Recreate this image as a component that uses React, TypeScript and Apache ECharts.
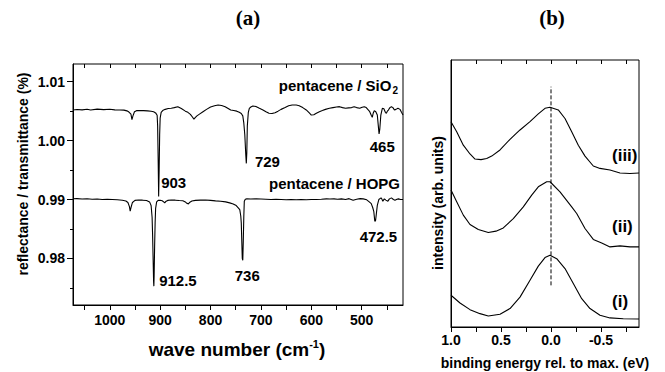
import React, { useEffect, useRef } from "react";
import * as echarts from "echarts";

const FONT = '"Liberation Sans", Arial, Helvetica, sans-serif';
const SERIF = '"Liberation Serif", "Times New Roman", serif';
const INK = "#000000";

// ---------- panel (a): IR spectra [wave number (cm-1), reflectance/transmittance] ----------
const siO2Spectrum: [number, number][] = [
  [1073, 1.0052], [1065, 1.00528], [1055, 1.00522], [1045, 1.00531], [1038, 1.00519],
  [1025, 1.00534], [1012, 1.00526], [1000, 1.00531], [990, 1.00522], [980, 1.00519],
  [972, 1.00517], [966, 1.00505], [962, 1.00485], [958, 1.0045], [956, 1.00355],
  [954, 1.0042], [951, 1.0049], [947, 1.00508], [940, 1.0051], [933, 1.00508],
  [925, 1.00505], [918, 1.00498], [913, 1.00491], [909, 1.0047], [906, 1.0043],
  [905, 1.0025], [904, 0.997], [903, 0.9905], [902, 0.995], [901, 1.001],
  [900, 1.0038], [898, 1.0048], [895, 1.0051], [890, 1.0053], [884, 1.00545],
  [878, 1.0055], [872, 1.0056], [865, 1.00575], [858, 1.00545], [850, 1.005],
  [845, 1.0048], [840, 1.00445], [836, 1.004], [833, 1.00365], [830, 1.00395],
  [827, 1.0042], [822, 1.0045], [815, 1.0049], [808, 1.0053], [800, 1.0057],
  [792, 1.0059], [785, 1.00604], [778, 1.00595], [771, 1.00576], [765, 1.00545],
  [760, 1.00519], [754, 1.0051], [748, 1.005], [743, 1.0048], [739, 1.0046],
  [736, 1.0042], [734, 1.003], [732, 1.001], [730, 0.9975], [729, 0.99613],
  [728, 0.998], [727, 1.0025], [725, 1.0048], [723, 1.00548], [720, 1.0057],
  [716, 1.00587], [710, 1.0058], [703, 1.00548], [696, 1.0052], [690, 1.0049],
  [684, 1.00463], [678, 1.0046], [672, 1.00474], [666, 1.005], [660, 1.0053],
  [652, 1.0056], [645, 1.0059], [638, 1.00604], [630, 1.00604], [624, 1.0059],
  [617, 1.0056], [610, 1.0052], [604, 1.0047], [600, 1.00434], [595, 1.0044],
  [590, 1.00465], [584, 1.00491], [578, 1.0051], [572, 1.0053], [564, 1.00548],
  [557, 1.0056], [550, 1.0057], [544, 1.00576], [538, 1.0056], [532, 1.00548],
  [526, 1.00556], [520, 1.0056], [515, 1.00576], [510, 1.0056], [504, 1.00548],
  [499, 1.00565], [495, 1.00576], [491, 1.0056], [487, 1.0052], [484, 1.00491],
  [481, 1.0043], [479, 1.00395], [477, 1.0047], [475, 1.00508], [472, 1.0049],
  [469, 1.00434], [467, 1.0025], [465.5, 1.00112], [464, 1.002], [462, 1.00434],
  [459, 1.00548], [456, 1.0054], [453, 1.0048], [451, 1.00463], [449, 1.005],
  [447, 1.00519], [444, 1.0056], [441, 1.00576], [438, 1.0056], [435, 1.00519],
  [432, 1.0053], [428, 1.00548], [424, 1.0053], [421, 1.0048], [418, 1.00434],
];

const hopgSpectrum: [number, number][] = [
  [1073, 0.99012], [1065, 0.99015], [1055, 0.99008], [1045, 0.99012], [1035, 0.99005],
  [1025, 0.99008], [1015, 0.99], [1005, 0.99005], [995, 0.99], [985, 0.98995],
  [975, 0.98989], [968, 0.98975], [964, 0.9895], [961, 0.9888], [959.5, 0.98802],
  [958, 0.9886], [955, 0.9895], [950, 0.98985], [943, 0.98992], [935, 0.98989],
  [927, 0.98983], [921, 0.9896], [918, 0.989], [916, 0.987], [915, 0.984],
  [914, 0.98], [913, 0.976], [912.5, 0.9753], [912, 0.977], [911, 0.982],
  [910, 0.986], [909, 0.9885], [907, 0.9896], [904, 0.98985], [900, 0.98989],
  [896, 0.9898], [893, 0.9896], [891, 0.98943], [889, 0.98965], [885, 0.98985],
  [878, 0.98992], [870, 0.98989], [862, 0.98983], [855, 0.9898], [850, 0.9896],
  [847, 0.98935], [844, 0.98926], [841, 0.98955], [837, 0.98975], [830, 0.98985],
  [820, 0.98989], [810, 0.98992], [800, 0.98985], [790, 0.98977], [780, 0.9897],
  [770, 0.9896], [762, 0.98943], [755, 0.98925], [749, 0.98898], [745, 0.9886],
  [742, 0.9883], [740, 0.9872], [739, 0.98604], [738, 0.983], [737, 0.98],
  [736, 0.97969], [735, 0.983], [734, 0.987], [733, 0.98972], [731, 0.99005],
  [728, 0.99011], [720, 0.99008], [710, 0.99011], [700, 0.99008], [690, 0.99005],
  [680, 0.99], [670, 0.99003], [660, 0.99], [650, 0.98995], [640, 0.99],
  [630, 0.98995], [620, 0.99], [610, 0.98995], [600, 0.99], [590, 0.99],
  [580, 0.99005], [570, 0.99011], [563, 0.99008], [555, 0.99011], [548, 0.99005],
  [540, 0.99011], [532, 0.99], [525, 0.99015], [517, 0.98989], [510, 0.99005],
  [503, 0.99015], [497, 0.99011], [490, 0.98995], [485, 0.9896], [481, 0.9893],
  [478, 0.9886], [476, 0.988], [474, 0.98632], [472.5, 0.9864], [471, 0.9875],
  [469, 0.989], [466, 0.99], [463, 0.9902], [461, 0.99028], [458, 0.98972],
  [455, 0.99011], [452, 0.9899], [448, 0.98972], [445, 0.99011], [441, 0.99028],
  [437, 0.99], [434, 0.98989], [430, 0.99005], [427, 0.99011], [423, 0.99],
  [418, 0.99],
];

const waveLabelValues = [1000, 900, 800, 700, 600, 500];
const waveTickValues = [1050, 1000, 950, 900, 850, 800, 750, 700, 650, 600, 550, 500, 450];
const reflLabelValues = [0.98, 0.99, 1.0, 1.01];
const reflMinorTickValues = [0.975, 0.985, 0.995, 1.005];

const annotationTexts = [
  "{t|pentacene / SiO}{s|2}",
  "{t|729}",
  "{t|465}",
  "{t|903}",
  "{t|pentacene / HOPG}",
  "{t|472.5}",
  "{t|912.5}",
  "{t|736}",
];
const annotationWaves = [428, 712, 484, 898, 424, 504, 902, 752];
const annotationValues = [1.00927, 0.99653, 0.99908, 0.99288, 0.99271, 0.98379, 0.97632, 0.97717];
const annotationSides = ["left", "right", "right", "right", "left", "right", "right", "right"];

// ---------- panel (b): photoemission [binding energy rel. to max (eV), intensity (arb.)] ----------
const curveIII: [number, number][] = [
  [1.0, 76.9], [0.943, 73.1], [0.877, 68.1], [0.81, 64.8], [0.76, 62.9], [0.7, 62.7],
  [0.643, 63.1], [0.593, 64.0], [0.51, 66.3], [0.41, 70.3], [0.35, 72.4], [0.31, 73.8],
  [0.21, 76.9], [0.127, 79.8], [0.06, 81.9], [0.01, 82.3], [-0.073, 81.3], [-0.14, 78.1],
  [-0.207, 73.1], [-0.273, 68.1], [-0.34, 64.0], [-0.423, 60.3], [-0.49, 59.4],
  [-0.59, 58.8], [-0.69, 57.7], [-0.79, 57.5], [-0.88, 57.7],
];
const curveII: [number, number][] = [
  [1.0, 51.3], [0.943, 46.9], [0.877, 41.9], [0.81, 38.4], [0.727, 36.5], [0.627, 35.4],
  [0.55, 35.9], [0.477, 37.1], [0.377, 40.6], [0.277, 45.0], [0.193, 49.4], [0.127, 52.5],
  [0.043, 54.4], [0.01, 54.4], [-0.09, 50.6], [-0.207, 45.0], [-0.257, 42.5], [-0.34, 36.9],
  [-0.423, 32.8], [-0.507, 31.5], [-0.59, 30.0], [-0.69, 30.4], [-0.79, 30.0], [-0.88, 30.0],
];
const curveI: [number, number][] = [
  [1.0, 11.9], [0.91, 9.0], [0.81, 6.5], [0.71, 5.0], [0.627, 4.1], [0.51, 4.8],
  [0.41, 6.9], [0.31, 11.2], [0.21, 17.5], [0.127, 22.8], [0.06, 26.0], [0.01, 26.9],
  [-0.057, 25.6], [-0.14, 21.9], [-0.223, 16.3], [-0.307, 10.6], [-0.39, 6.9],
  [-0.49, 4.4], [-0.59, 3.4], [-0.723, 3.1], [-0.88, 3.0],
];
const markerLine: [number, number][] = [[0, 15.6], [0, 90.0]];

const energyLabelValues = [1.0, 0.5, 0.0, -0.5];
const energyTickValues = [1.0, 0.75, 0.5, 0.25, 0.0, -0.25, -0.5, -0.75];

const curveNames = ["(iii)", "(ii)", "(i)"];
const curveNameEnergies = [-0.61, -0.61, -0.61];
const curveNameIntensities = [64.4, 37.8, 9.5];

export default function App() {
  const ref = useRef<HTMLDivElement>(null);

  useEffect(() => {
    document.body.style.margin = "0";
    const chart = echarts.init(ref.current as HTMLDivElement, null, { renderer: "svg" });

    const tickLabel = { color: INK, fontSize: 14, fontWeight: "bold" as const, fontFamily: FONT };
    const lineSeries = (data: [number, number][], xi: number, yi: number, extra: any = {}) => ({
      type: "line",
      xAxisIndex: xi,
      yAxisIndex: yi,
      data,
      showSymbol: false,
      symbol: "none",
      silent: true,
      lineStyle: { color: INK, width: 1.1, ...extra },
    });

    chart.setOption({
      animation: false,
      backgroundColor: "#ffffff",
      textStyle: { fontFamily: FONT },
      grid: [
        { left: 73, top: 64, width: 330, height: 241, show: true, borderColor: INK, borderWidth: 1, backgroundColor: "transparent" },
        { left: 451, top: 60, width: 188, height: 267, show: true, borderColor: INK, borderWidth: 1, backgroundColor: "transparent" },
      ],
      xAxis: [
        {
          gridIndex: 0, type: "value", inverse: true, min: 418, max: 1073, position: "bottom",
          splitLine: { show: false },
          axisLine: { show: true, onZero: false, lineStyle: { color: INK, width: 1 } },
          axisTick: { show: true, inside: false, length: 5, customValues: waveTickValues, lineStyle: { color: INK } },
          axisLabel: { ...tickLabel, margin: 8, customValues: waveLabelValues, formatter: (v: number) => String(v) },
        },
        {
          gridIndex: 0, type: "value", inverse: true, min: 418, max: 1073, position: "top",
          splitLine: { show: false },
          axisLine: { show: false, onZero: false },
          axisTick: { show: true, inside: true, length: 4, customValues: waveTickValues, lineStyle: { color: INK } },
          axisLabel: { show: false },
        },
        {
          gridIndex: 1, type: "value", inverse: true, min: -0.88, max: 1.0, position: "bottom",
          splitLine: { show: false },
          axisLine: { show: true, onZero: false, lineStyle: { color: INK, width: 1 } },
          axisTick: { show: true, inside: false, length: 5, customValues: energyTickValues, lineStyle: { color: INK } },
          axisLabel: { ...tickLabel, margin: 6, customValues: energyLabelValues, formatter: (v: number) => v.toFixed(1) },
        },
        {
          gridIndex: 1, type: "value", inverse: true, min: -0.88, max: 1.0, position: "top",
          splitLine: { show: false },
          axisLine: { show: false, onZero: false },
          axisTick: { show: true, inside: true, length: 4, customValues: energyTickValues, lineStyle: { color: INK } },
          axisLabel: { show: false },
        },
      ],
      yAxis: [
        {
          gridIndex: 0, type: "value", min: 0.9721, max: 1.013, position: "left",
          splitLine: { show: false },
          axisLine: { show: true, onZero: false, lineStyle: { color: INK, width: 1 } },
          axisTick: { show: true, inside: false, length: 6, customValues: reflLabelValues, lineStyle: { color: INK } },
          axisLabel: { ...tickLabel, margin: 8, customValues: reflLabelValues, formatter: (v: number) => v.toFixed(2) },
        },
        {
          gridIndex: 0, type: "value", min: 0.9721, max: 1.013, position: "left",
          splitLine: { show: false },
          axisLine: { show: false, onZero: false },
          axisTick: { show: true, inside: false, length: 3, customValues: reflMinorTickValues, lineStyle: { color: INK } },
          axisLabel: { show: false },
        },
        {
          gridIndex: 1, type: "value", min: 0, max: 100, position: "left",
          splitLine: { show: false },
          axisLine: { show: true, onZero: false, lineStyle: { color: INK, width: 1 } },
          axisTick: { show: false },
          axisLabel: { show: false },
        },
      ],
      series: [
        lineSeries(siO2Spectrum, 0, 0),
        lineSeries(hopgSpectrum, 0, 0),
        {
          type: "scatter",
          xAxisIndex: 0,
          yAxisIndex: 0,
          symbolSize: 0,
          silent: true,
          itemStyle: { opacity: 1 },
          data: annotationTexts.map((t, i) => ({
            value: [annotationWaves[i], annotationValues[i]],
            label: {
              show: true,
              position: annotationSides[i],
              distance: 0,
              formatter: t,
              color: INK,
              opacity: 1,
              rich: {
                t: { fontSize: 15, fontWeight: "bold", fontFamily: FONT, color: INK, lineHeight: 18 },
                s: { fontSize: 10, fontWeight: "bold", fontFamily: FONT, color: INK, lineHeight: 10, padding: [9, 0, 0, 1] },
              },
            },
          })),
        },
        lineSeries(curveIII, 2, 2),
        lineSeries(curveII, 2, 2),
        lineSeries(curveI, 2, 2),
        lineSeries(markerLine, 2, 2, { type: [4, 2], width: 1 }),
        {
          type: "scatter",
          xAxisIndex: 2,
          yAxisIndex: 2,
          symbolSize: 0,
          silent: true,
          itemStyle: { opacity: 1 },
          data: curveNames.map((n, i) => ({
            value: [curveNameEnergies[i], curveNameIntensities[i]],
            label: {
              show: true,
              position: "right",
              distance: 0,
              formatter: n,
              color: INK,
              opacity: 1,
              fontSize: 17,
              fontWeight: "bold",
              fontFamily: FONT,
            },
          })),
        },
      ],
      graphic: [
        { type: "text", x: 248, y: 18, style: { text: "(a)", fill: INK, fontSize: 21, fontWeight: "bold", fontFamily: SERIF, align: "center", verticalAlign: "middle" } },
        { type: "text", x: 552, y: 18, style: { text: "(b)", fill: INK, fontSize: 21, fontWeight: "bold", fontFamily: SERIF, align: "center", verticalAlign: "middle" } },
        {
          type: "text", x: 22.5, y: 174, rotation: Math.PI / 2,
          style: { text: "reflectance / transmittance (%)", fill: INK, fontSize: 14, fontWeight: "bold", fontFamily: FONT, align: "center", verticalAlign: "middle" },
        },
        {
          type: "text", x: 237, y: 349,
          style: {
            text: "{m|wave number (cm}{p|-1}{m|)}",
            fill: INK, align: "center", verticalAlign: "middle",
            rich: {
              m: { fontSize: 19, fontWeight: "bold", fontFamily: FONT, fill: INK, lineHeight: 22 },
              p: { fontSize: 11, fontWeight: "bold", fontFamily: FONT, fill: INK, lineHeight: 11, padding: [0, 0, 10, 0] },
            },
          },
        },
        {
          type: "text", x: 438, y: 203, rotation: Math.PI / 2,
          style: { text: "intensity (arb. units)", fill: INK, fontSize: 14, fontWeight: "bold", fontFamily: FONT, align: "center", verticalAlign: "middle" },
        },
        {
          type: "text", x: 545, y: 363,
          style: { text: "binding energy rel. to max. (eV)", fill: INK, fontSize: 14, fontWeight: "bold", fontFamily: FONT, align: "center", verticalAlign: "middle" },
        },
      ],
    });

    return () => chart.dispose();
  }, []);

  return <div ref={ref} style={{ position: "absolute", left: 0, top: 0, width: 665, height: 372 }} />;
}
